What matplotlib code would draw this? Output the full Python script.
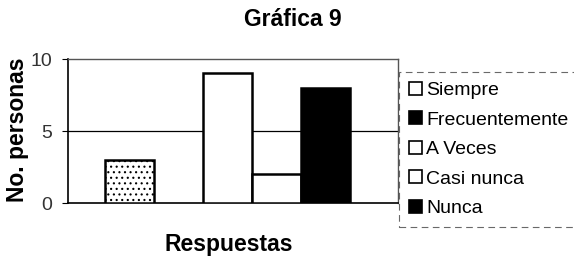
import matplotlib
matplotlib.use("Agg")
import matplotlib.pyplot as plt
from matplotlib.patches import Patch

plt.rcParams['font.family'] = ['Liberation Sans', 'DejaVu Sans']
plt.rcParams['hatch.color'] = '#555555'
plt.rcParams['hatch.linewidth'] = 0.8

categories = ["Siempre", "Frecuentemente", "A Veces", "Casi nunca", "Nunca"]
values = [3, 0, 9, 2, 8]
bar_colors = ["white", "black", "white", "white", "black"]
bar_hatches = ["...", None, None, None, None]
legend_colors = ["white", "black", "white", "white", "black"]
yticks = [0, 5, 10]

fig = plt.figure(figsize=(5.74, 2.57), dpi=100)
ax = fig.add_axes([68/574, 1-203/257, 330/574, 144/257])

x = list(range(len(categories)))
for xi, v, c, h in zip(x, values, bar_colors, bar_hatches):
    if v <= 0:
        continue
    ax.bar(xi, v, width=1.0, color=c, edgecolor="black", linewidth=1.8,
           hatch=h, zorder=3)

ax.set_ylim(0, 10)
left = -0.5 - 37/49
ax.set_xlim(left, left + 330/49)
ax.axhline(5, color="black", linewidth=0.9, zorder=1)
ax.set_yticks(yticks)
ax.set_yticklabels([str(t) for t in yticks], fontsize=14, color="#333333")
ax.set_xticks([])
ax.tick_params(axis='y', length=4.3, width=0.8, pad=7)
for s in ["top", "right"]:
    ax.spines[s].set_color("#555555")
    ax.spines[s].set_linewidth(1.0)
ax.spines["left"].set_linewidth(1.2)
ax.spines["bottom"].set_linewidth(1.2)

ax.set_ylabel("No. personas", fontsize=16.5, fontweight="bold")
ax.yaxis.set_label_coords(-(68-18)/330, (203-130)/144)
ax.set_xlabel("Respuestas", fontsize=16.5, fontweight="bold")
ax.xaxis.set_label_coords((229-68)/330, -(244-203)/144)
ax.xaxis.label.set_va("center")
ax.yaxis.label.set_va("center")
fig.text(293/574, 1-19/257, "Gráfica 9", fontsize=16.5, fontweight="bold",
         ha="center", va="center")

handles = [Patch(facecolor=c, edgecolor="black", linewidth=1.2) for c in legend_colors]
leg = fig.legend(handles, categories, loc="upper left",
                 bbox_to_anchor=(399/574, 1-72/257), fontsize=14,
                 frameon=True, fancybox=False, handlelength=0.7,
                 handleheight=0.65, handletextpad=0.2, labelspacing=0.63,
                 borderpad=0.5, borderaxespad=0)
fr = leg.get_frame()
fr.set_edgecolor("#444444")
fr.set_linestyle((0, (6, 4)))
fr.set_linewidth(0.8)

fig.savefig("out.png", dpi=100)
